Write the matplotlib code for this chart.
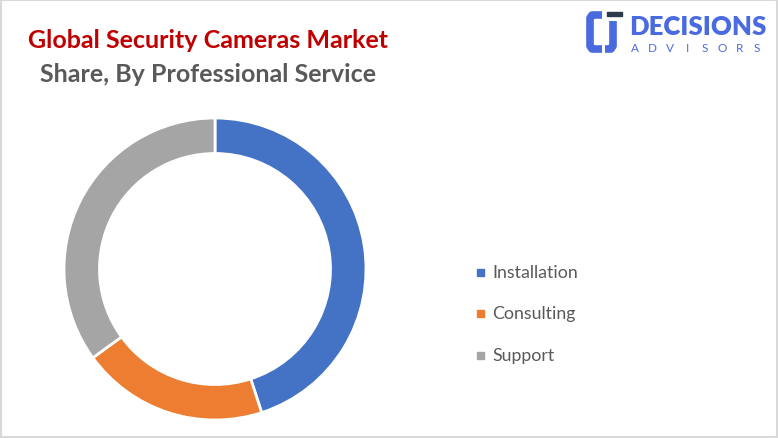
import matplotlib
matplotlib.use("Agg")
import matplotlib.pyplot as plt
from matplotlib.patches import Rectangle

categories = ["Installation", "Consulting", "Support"]
shares = [45, 20, 35]
colors = ["#4472C4", "#ED7D31", "#A5A5A5"]

W, H = 778, 439
fig = plt.figure(figsize=(W / 100, H / 100), dpi=100)
fig.patch.set_facecolor("white")

# overlay axes in pixel coordinates
ov = fig.add_axes([0, 0, 1, 1])
ov.set_xlim(0, W)
ov.set_ylim(H, 0)
ov.axis("off")
ov.add_patch(Rectangle((1, 1), W - 2, H - 2, fill=False, edgecolor="#D9D9D9", lw=1.5))

# titles
ov.text(208, 41, "Global Security Cameras Market", color="#C00000", fontsize=18,
        fontweight="bold", family="Lato", ha="center", va="center")
ov.text(208, 74, "Share, By Professional Service", color="#595959", fontsize=18,
        fontweight="bold", family="Lato", ha="center", va="center")

# logo
blue = "#4A6BE0"
ov.plot([602, 592, 590, 590, 592, 602], [16, 16, 19, 47, 50, 50], color=blue, lw=5.5,
        solid_capstyle="butt", solid_joinstyle="round")
ov.plot([613, 613, 611, 605], [22, 47, 50, 50], color=blue, lw=5.5,
        solid_capstyle="butt", solid_joinstyle="round")
ov.add_patch(Rectangle((607, 13), 15, 4, color="#2E3A4A"))
ov.text(629, 27, "DECISIONS", color=blue, fontsize=18.5, fontweight="heavy",
        family="Lato", ha="left", va="center")
adv = "ADVISORS"
for i, ch in enumerate(adv):
    ov.text(635 + i * 17.4, 48, ch, color=blue, fontsize=8.5, family="Lato",
            ha="center", va="center")

# donut
ax = fig.add_axes([(215 - 151) / W, 1 - (270 + 151) / H, 302 / W, 302 / H])
ax.pie(shares, colors=colors, startangle=90, counterclock=False,
       wedgeprops=dict(width=0.235, edgecolor="white", linewidth=2))
ax.set_xlim(-1.0, 1.0)
ax.set_ylim(-1.0, 1.0)
ax.set_aspect("equal")

# legend
for i, (c, col) in enumerate(zip(categories, colors)):
    y = 273 + i * 41.5
    ov.add_patch(Rectangle((477, y - 3.5), 7, 7, color=col))
    ov.text(492, y, c, color="#595959", fontsize=12.8, family="Lato",
            ha="left", va="center")

fig.savefig("out.png", dpi=100, facecolor="white")
